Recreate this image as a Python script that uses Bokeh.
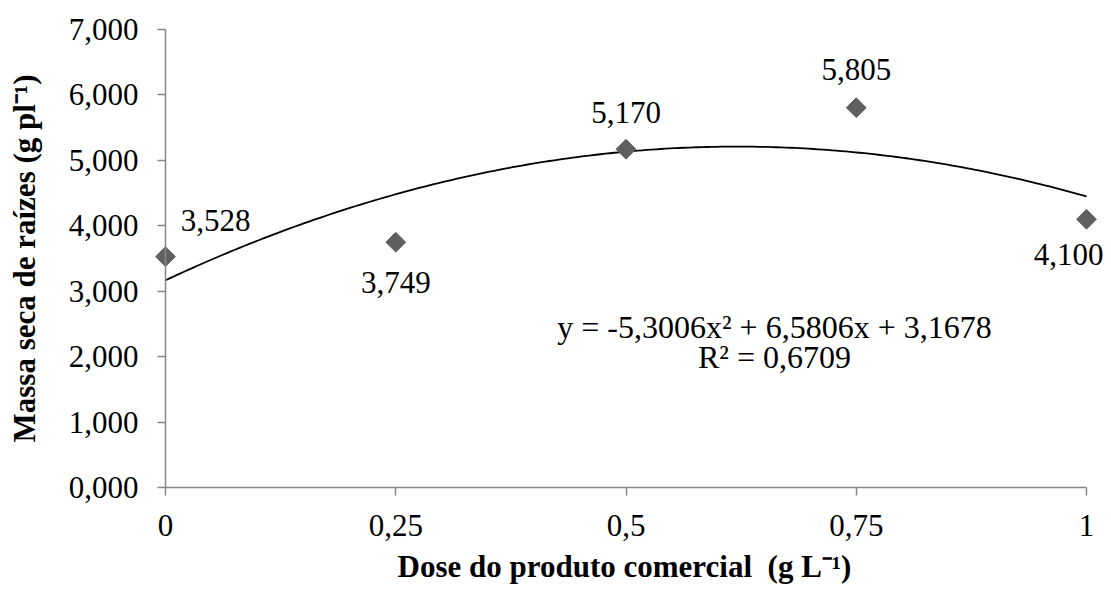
import numpy as np
from bokeh.plotting import figure
from bokeh.models import Range1d, FixedTicker, Label, ColumnDataSource
from bokeh.core.properties import value
from bokeh.embed import file_html
from bokeh.resources import INLINE

# ---- data ----
doses = [0, 0.25, 0.5, 0.75, 1]
massa = [3.528, 3.749, 5.170, 5.805, 4.100]
point_labels = ["3,528", "3,749", "5,170", "5,805", "4,100"]
coef = [-5.3006, 6.5806, 3.1678]          # y = a x^2 + b x + c
r2_text = "R² = 0,6709"
eq_text = "y = -5,3006x² + 6,5806x + 3,1678"
x_ticks = [0, 0.25, 0.5, 0.75, 1]
x_tick_labels = ["0", "0,25", "0,5", "0,75", "1"]
y_ticks = [0, 1, 2, 3, 4, 5, 6, 7]
y_tick_labels = ["0,000", "1,000", "2,000", "3,000", "4,000", "5,000", "6,000", "7,000"]
x_title = "Dose do produto comercial\u00a0 (g L⁻¹)"
y_title = "Massa seca de raízes (g pl⁻¹)"

# ---- style ----
FONT = "Liberation Serif"
AXIS_COLOR = "#868686"
MARK_COLOR = "#5f5f5f"
label_dx = [50, 0, 0, 0, -18]
label_dy = [-36, 40, -37, -38, 35]

W, H = 1103, 589
# pixel layout of the plotting area inside the canvas
PX0, PX1 = 165, 1086      # x = 0 .. 1
PY0, PY1 = 487, 29        # y = 0 .. 7
sx = (PX1 - PX0) / (x_ticks[-1] - x_ticks[0])
sy = (PY0 - PY1) / (y_ticks[-1] - y_ticks[0])
xr = Range1d(x_ticks[0] - PX0 / sx, x_ticks[-1] + (W - PX1) / sx)
yr = Range1d(y_ticks[0] - (H - PY0) / sy, y_ticks[-1] + PY1 / sy)

p = figure(width=W, height=H, output_backend="svg", toolbar_location=None,
           x_range=xr, y_range=yr, min_border=0)
p.outline_line_color = None
p.grid.grid_line_color = None
p.background_fill_color = "white"
p.border_fill_color = "white"

for ax in (p.xaxis[0], p.yaxis[0]):
    ax.fixed_location = 0
    ax.axis_line_color = AXIS_COLOR
    ax.axis_line_width = 1.5
    ax.major_tick_line_color = AXIS_COLOR
    ax.major_tick_line_width = 1.5
    ax.major_tick_in = 0
    ax.major_tick_out = 8
    ax.minor_tick_line_color = None
    ax.major_label_text_font = FONT
    ax.major_label_text_font_size = "31px"
    ax.major_label_text_color = "black"

p.xaxis[0].ticker = FixedTicker(ticks=x_ticks)
p.xaxis[0].bounds = (x_ticks[0], x_ticks[-1])
p.xaxis[0].major_label_overrides = {t: l for t, l in zip(x_ticks, x_tick_labels)}
p.xaxis[0].major_label_standoff = 19
p.yaxis[0].ticker = FixedTicker(ticks=y_ticks)
p.yaxis[0].bounds = (y_ticks[0], y_ticks[-1])
p.yaxis[0].major_label_overrides = {t: l for t, l in zip(y_ticks, y_tick_labels)}
p.yaxis[0].major_label_standoff = 19

# trendline from coefficients
xs = np.linspace(0, 1, 200)
ys = coef[0] * xs**2 + coef[1] * xs + coef[2]
p.line(xs, ys, line_color="black", line_width=1.8)

src = ColumnDataSource(dict(x=doses, y=massa, t=point_labels, dx=label_dx, dy=label_dy))
p.scatter("x", "y", source=src, marker="square", angle=np.pi / 4, size=14,
          fill_color=MARK_COLOR, line_color=MARK_COLOR)
p.text("x", "y", text="t", source=src, x_offset="dx", y_offset="dy",
       text_font=value(FONT), text_font_size="31px", text_color="black",
       text_align="center", text_baseline="middle")

# equation
p.add_layout(Label(x=774, y=263, x_units="screen", y_units="screen", text=eq_text,
                   text_font=FONT, text_font_size="32px", text_align="center",
                   text_baseline="middle", text_color="black"))
p.add_layout(Label(x=774, y=233, x_units="screen", y_units="screen", text=r2_text,
                   text_font=FONT, text_font_size="32px", text_align="center",
                   text_baseline="middle", text_color="black"))

# axis titles
p.add_layout(Label(x=624, y=23, x_units="screen", y_units="screen", text=x_title,
                   text_font=FONT, text_font_size="31px", text_font_style="bold",
                   text_align="center", text_baseline="middle", text_color="black"))
p.add_layout(Label(x=24, y=331, x_units="screen", y_units="screen", text=y_title,
                   angle=np.pi / 2, text_font=FONT, text_font_size="31px",
                   text_font_style="bold", text_align="center", text_baseline="middle",
                   text_color="black"))

open("out.html", "w").write(file_html(p, INLINE))
